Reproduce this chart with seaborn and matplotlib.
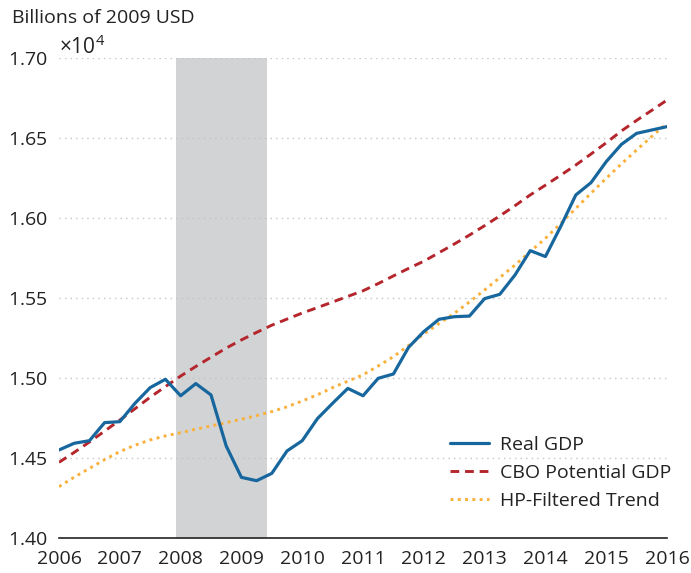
import matplotlib
matplotlib.use("Agg")
import matplotlib.pyplot as plt
import numpy as np
import pandas as pd
import seaborn as sns

# kvartali 2006Q1 .. 2016Q1, vrijednosti u milijardama USD (2009)
years = [2006 + 0.25 * i for i in range(41)]

real_gdp = [14550, 14592, 14608, 14721, 14727, 14842, 14940, 14992,
            14889, 14965, 14894, 14575, 14379, 14358, 14404, 14544,
            14608, 14746, 14842, 14935, 14889, 14998, 15025, 15192,
            15290, 15367, 15383, 15387, 15496, 15523, 15644, 15796,
            15759, 15946, 16144, 16221, 16352, 16460, 16529, 16550,
            16571]

cbo_potential = [14473, 14535, 14600, 14668, 14737, 14808, 14880, 14946,
                 15012, 15072, 15130, 15187, 15238, 15285, 15330, 15368,
                 15406, 15440, 15475, 15510, 15545, 15590, 15638, 15685,
                 15730, 15783, 15837, 15893, 15952, 16013, 16077, 16144,
                 16205, 16267, 16331, 16400, 16470, 16544, 16610, 16673,
                 16737]

hp_trend = [14321, 14380, 14435, 14490, 14540, 14580, 14613, 14638,
            14658, 14680, 14700, 14721, 14742, 14765, 14790, 14820,
            14856, 14895, 14940, 14980, 15020, 15075, 15133, 15203,
            15275, 15340, 15404, 15475, 15550, 15628, 15706, 15790,
            15873, 15965, 16060, 16155, 16248, 16338, 16425, 16510,
            16592]

recession = (2007.92, 2009.42)
x_ticks = list(range(2006, 2017))
y_ticks = [14000, 14500, 15000, 15500, 16000, 16500, 17000]

sns.set_style("white")
plt.rcParams['font.family'] = ['Open Sans', 'DejaVu Sans']
plt.rcParams['mathtext.fontset'] = 'custom'
plt.rcParams['mathtext.rm'] = 'Open Sans'

df = pd.DataFrame({'year': years, 'Real GDP': real_gdp,
                   'CBO Potential GDP': cbo_potential,
                   'HP-Filtered Trend': hp_trend})

fig = plt.figure(figsize=(6.91, 5.73), dpi=100)
ax = fig.add_axes([0.0854, 0.0611, 0.8799, 0.8377])

ax.axvspan(recession[0], recession[1], color='#d1d3d4', lw=0, zorder=0)

sns.lineplot(data=df, x='year', y='Real GDP', ax=ax, color='#17679e',
             lw=2.3, label='Real GDP', zorder=4)
sns.lineplot(data=df, x='year', y='CBO Potential GDP', ax=ax, color='#b5252c',
             lw=2.1, ls=(0, (3, 2)), label='CBO Potential GDP', zorder=3)
sns.lineplot(data=df, x='year', y='HP-Filtered Trend', ax=ax, color='#fbb03b',
             lw=2.1, ls=(0, (1, 1.5)), label='HP-Filtered Trend', zorder=3)

ax.set_xlim(2006, 2016)
ax.set_ylim(14000, 17000)
ax.set_xticks(x_ticks)
ax.set_yticks(y_ticks)
ax.ticklabel_format(axis='y', style='sci', scilimits=(4, 4), useMathText=True, useOffset=False)
ax.yaxis.get_offset_text().set_fontsize(15)
ax.yaxis.get_offset_text().set_color('#333333')

for y in y_ticks[1:]:
    ax.axhline(y, color='#c4c4c4', lw=1, ls=(0, (1, 3)), zorder=1)

for s in ['left', 'right', 'top']:
    ax.spines[s].set_visible(False)
ax.spines['bottom'].set_color('#222222')
ax.spines['bottom'].set_linewidth(1.2)
ax.tick_params(axis='x', length=6, width=1.2, color='#222222', labelsize=14,
               labelcolor='#222222', pad=3)
ax.tick_params(axis='y', length=0, labelsize=14, labelcolor='#222222', pad=8)
ax.set_xlabel('')
ax.set_ylabel('')

leg = ax.legend(loc='lower right', frameon=False, fontsize=14, handlelength=2.0,
                handletextpad=0.55, bbox_to_anchor=(1.035, 0.022), labelspacing=0.52)
for t in leg.get_texts():
    t.set_color('#222222')

fig.text(0.018, 0.985, 'Billions of 2009 USD', fontsize=14, color='#222222',
         va='top', ha='left')

fig.savefig('out.png', dpi=100)
